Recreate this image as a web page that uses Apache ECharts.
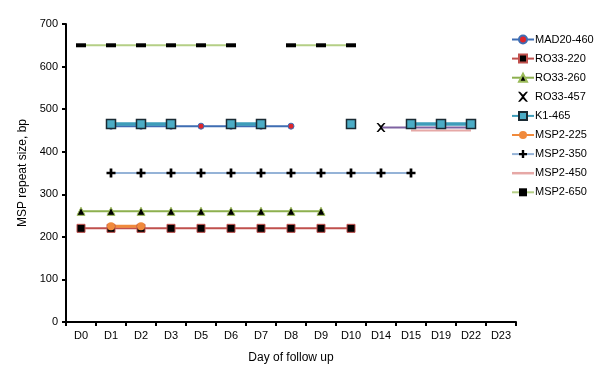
<!DOCTYPE html>
<html><head><meta charset="utf-8">
<script src="https://cdn.jsdelivr.net/npm/echarts@6/dist/echarts.min.js"></script>
<style>html,body{margin:0;padding:0;background:#fff}#c{width:600px;height:385px}</style>
</head><body><div id="c"></div>
<script>
const categories = ['D0','D1','D2','D3','D5','D6','D7','D8','D9','D10','D14','D15','D19','D22','D23'];
const yTicks = [0,100,200,300,400,500,600,700];
const mad20_460 = [null,460,460,460,460,460,460,460,null,null,null,null,null,null,null];
const ro33_220  = [220,220,220,220,220,220,220,220,220,220,null,null,null,null,null];
const ro33_260  = [260,260,260,260,260,260,260,260,260,null,null,null,null,null,null];
const ro33_457  = [null,null,null,null,null,null,null,null,null,null,457,457,457,457,null];
const k1_465    = [null,465,465,465,null,465,465,null,null,465,null,465,465,465,null];
const msp2_225  = [null,225,225,null,null,null,null,null,null,null,null,null,null,null,null];
const msp2_350  = [null,350,350,350,350,350,350,350,350,350,350,350,null,null,null];
const msp2_450  = [null,null,null,null,null,null,null,null,null,null,null,450,450,450,null];
const msp2_650  = [650,650,650,650,650,650,null,650,650,650,null,null,null,null,null];

const F = 'Liberation Sans, Arial, sans-serif';
const xPath = 'path://M0,0 L2,0 L5,3 L8,0 L10,0 L6,5 L10,10 L8,10 L5,7 L2,10 L0,10 L4,5 Z';
const plusPath = 'path://M3.5,0 L6.5,0 L6.5,3.5 L10,3.5 L10,6.5 L6.5,6.5 L6.5,10 L3.5,10 L3.5,6.5 L0,6.5 L0,3.5 L3.5,3.5 Z';
const lineIcon = 'path://M0,0 L22,0 L22,2.5 L0,2.5 Z';

function s(name, data, color, opts) {
  return Object.assign({
    name, type: 'line', data, connectNulls: false,
    lineStyle: { color, width: 2 },
    itemStyle: { color },
    symbolSize: 8,
    animation: false
  }, opts || {});
}

// first non-empty point of a series (only that marker is not hidden behind K1 markers)
const firstIdx = arr => arr.findIndex(v => v != null);
const ro33First = firstIdx(ro33_457);

const series = [
  s('MAD20-460', mad20_460, '#3F6DB3', { symbol: 'circle', symbolSize: 6, itemStyle: { color: '#E0262B', borderColor: '#3F6DB3', borderWidth: 1 } }),
  s('RO33-220', ro33_220, '#C0504D', { symbol: 'rect', symbolSize: 8, itemStyle: { color: '#000', borderColor: '#C0504D', borderWidth: 1 } }),
  s('RO33-260', ro33_260, '#8DB04E', { symbol: 'triangle', symbolSize: 8, itemStyle: { color: '#000', borderColor: '#9BBB59', borderWidth: 1 } }),
  s('RO33-457', ro33_457, '#7E62A1', { symbol: (v, p) => (p.dataIndex === ro33First ? xPath : 'none'), symbolSize: 9, itemStyle: { color: '#000' } }),
  s('K1-465', k1_465, '#3D9DBA', { z: 3, symbol: 'rect', symbolSize: 9, lineStyle: { color: '#3D9DBA', width: 3.5 }, itemStyle: { color: '#4BACC6', borderColor: '#1a2a33', borderWidth: 1.5 } }),
  s('MSP2-225', msp2_225, '#F08A3C', { symbol: 'circle', symbolSize: 8, lineStyle: { color: '#F08A3C', width: 3 }, itemStyle: { color: '#F08A3C' } }),
  s('MSP2-350', msp2_350, '#95B3D7', { symbol: plusPath, symbolSize: 9, itemStyle: { color: '#000' } }),
  s('MSP2-450', msp2_450, '#E6A8A6', { symbol: 'none', lineStyle: { color: '#E6A8A6', width: 2 }, itemStyle: { color: '#E6A8A6' } }),
  s('MSP2-650', msp2_650, '#B5CF86', { symbol: 'rect', symbolSize: [10, 4], itemStyle: { color: '#000' } })
];

const legendIcons = { 'MSP2-450': lineIcon, 'RO33-457': xPath };

const chart = echarts.init(document.getElementById('c'), null, { renderer: 'canvas' });
chart.setOption({
  animation: false,
  backgroundColor: '#fff',
  textStyle: { fontFamily: F },
  grid: { left: 66, right: 84, top: 24, bottom: 63, containLabel: false },
  legend: {
    orient: 'vertical', left: 506, top: 29,
    itemWidth: 22, itemHeight: 10, itemGap: 8.1,
    textStyle: { fontFamily: F, fontSize: 11, color: '#000', padding: [0, 0, 0, -4] },
    data: series.map(x => legendIcons[x.name] ? { name: x.name, icon: legendIcons[x.name] } : x.name)
  },
  xAxis: {
    type: 'category', data: categories, boundaryGap: true,
    name: 'Day of follow up', nameLocation: 'middle', nameGap: 30,
    nameTextStyle: { fontFamily: F, fontSize: 12, color: '#000' },
    axisLine: { lineStyle: { color: '#000', width: 2 } },
    axisTick: { show: true, alignWithLabel: false, length: 4, lineStyle: { color: '#000', width: 2 } },
    axisLabel: { fontFamily: F, fontSize: 11, color: '#000', margin: 8, interval: 0 },
    splitLine: { show: false }
  },
  yAxis: {
    type: 'value', min: yTicks[0], max: yTicks[yTicks.length - 1], interval: 100,
    name: 'MSP repeat size, bp', nameLocation: 'middle', nameGap: 37, nameRotate: 90,
    nameTextStyle: { fontFamily: F, fontSize: 12, color: '#000' },
    axisLine: { show: true, lineStyle: { color: '#000', width: 2 } },
    axisTick: { show: true, length: 4, inside: false, lineStyle: { color: '#000', width: 2 } },
    axisLabel: { fontFamily: F, fontSize: 11, color: '#000', margin: 8 },
    splitLine: { show: false }
  },
  series
});
</script></body></html>
